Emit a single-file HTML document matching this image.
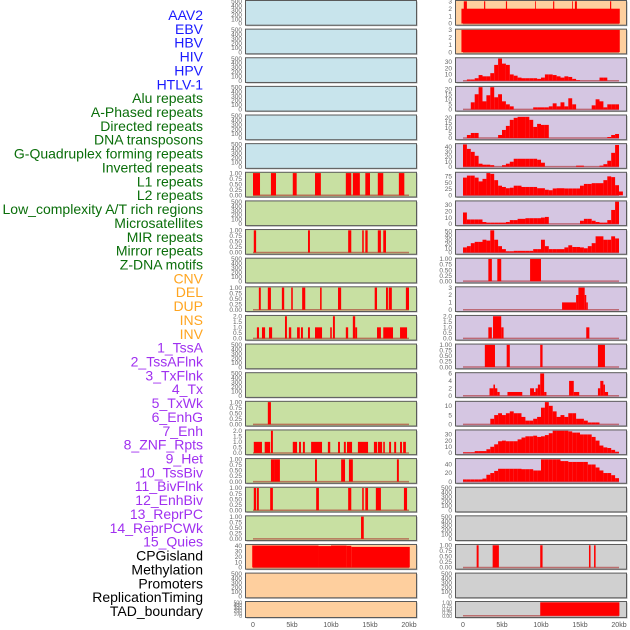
<!DOCTYPE html>
<html><head><meta charset="utf-8">
<style>
html,body{margin:0;padding:0;background:#fff;width:630px;height:630px;overflow:hidden}
svg{display:block;font-family:"Liberation Sans",sans-serif}
</style></head>
<body>
<svg id="chart" width="630" height="630" viewBox="0 0 630 630"></svg>
<script>
// ---------- labels ----------
const labelNames = ["AAV2","EBV","HBV","HIV","HPV","HTLV-1","Alu repeats","A-Phased repeats","Directed repeats","DNA transposons","G-Quadruplex forming repeats","Inverted repeats","L1 repeats","L2 repeats","Low_complexity A/T rich regions","Microsatellites","MIR repeats","Mirror repeats","Z-DNA motifs","CNV","DEL","DUP","INS","INV","1_TssA","2_TssAFlnk","3_TxFlnk","4_Tx","5_TxWk","6_EnhG","7_Enh","8_ZNF_Rpts","9_Het","10_TssBiv","11_BivFlnk","12_EnhBiv","13_ReprPC","14_ReprPCWk","15_Quies","CPGisland","Methylation","Promoters","ReplicationTiming","TAD_boundary"];
const labelGroups = [6,13,5,15,5];
const groupColors = ["#1a1aff","#0a6e0a","#ffa520","#a030f0","#000000"];

// ---------- axis ticks ----------
const xTickValues = [0,5,10,15,20];
const xTickLabels = ["0","5kb","10kb","15kb","20kb"];
const ticksEmpty = ["0","100","200","300","400","500"];
const ticksUnit = ["0.00","0.25","0.50","0.75","1.00"];
const ticksTwo = ["0.0","0.5","1.0","1.5","2.0"];
const ticksThree = ["0","1","2","3"];
const ticks30 = ["0","10","20","30"];
const ticks20 = ["0","5","10","15","20"];
const ticks40 = ["0","10","20","30","40"];
const ticks75 = ["0","25","50","75"];
const ticks50 = ["0","10","20","30","40","50"];
const ticks6 = ["0","2","4","6"];
const ticks10 = ["0","5","10"];
const ticks40b = ["0","20","40"];

// ---------- left column data (intervals: [startKb, endKb, value]) ----------
const leftL1 = [[0,0.9,1],[2.3,2.95,1],[5.1,5.6,1],[7.95,8.7,1],[11.9,12.6,1],[12.8,13.7,1],[14.4,15,1],[16,16.7,1],[18.7,19.4,1]];
const leftMIR = [[0.1,0.4,1],[7.05,7.3,1],[12.2,12.6,1],[14,14.2,1],[14.4,14.7,1],[16,16.4,1],[16.7,17.05,1]];
const leftZDNA = [[0.75,1.0,1],[1.9,2.3,1],[3.7,4.0,1],[4.9,5.1,1],[6.3,6.7,1],[8.6,8.8,1],[10.9,11.3,1],[15.6,15.9,1],[17.05,17.3,1],[17.4,17.8,1],[19.6,20,1]];
const leftDEL = [[0.5,0.77,1],[1.15,1.55,1],[2.05,2.45,1],[4.1,4.35,2],[4.6,4.9,1],[5.65,6.0,1],[6.15,6.4,1],[7.05,7.3,1],[7.95,8.85,1],[9.9,10.1,1],[10.25,10.5,2],[11.9,12.2,1],[12.8,13.1,2],[13.1,13.35,1],[15.9,16.4,1],[16.7,17.95,1],[18.85,19.75,1]];
const leftTxWk = [[1.9,2.3,1]];
const leftEnh = [[0.1,1.15,1],[1.5,2.2,1],[2.3,2.55,2],[5.1,5.65,1],[5.9,6.15,1],[6.4,6.65,1],[7.45,8.85,1],[9.6,9.9,1],[10.9,11.15,1],[11.65,11.9,1],[12.05,12.7,1],[13.45,14.75,1],[15.5,15.9,1],[16,16.55,1],[16.7,16.9,1],[17.45,17.7,1],[18.1,18.35,1],[18.85,19.1,1],[19.25,19.6,1]];
const leftHet = [[2.3,2.7,1],[2.7,3.45,1],[7.95,8.2,1],[11.3,11.8,1],[12.3,12.8,1],[18.45,18.7,1]];
const leftBivFlnk = [[0.1,0.4,1],[0.5,0.75,1],[2.2,2.55,1],[8.1,8.45,1],[12.2,12.6,1],[14,14.2,1],[14.4,14.75,1],[15.75,16.4,1],[19.35,19.75,1]];
const leftReprPC = [[13.85,14.2,1]];
const leftCPG = [[-0.1,8.4,40.5],[8.4,10,39.5],[10,12,40.5],[12,12.6,40],[12.6,20.1,38]];

// ---------- right column data ----------
const rightAAV2 = [[-0.2,20.1,2],[0.1,0.5,3],[2.7,2.85,3],[5.5,5.65,3],[9.25,9.35,3],[11.55,11.7,3],[14,14.1,3],[14.35,14.6,3],[18.85,19,3]];
const rightEBV = [[-0.2,20.1,3]];
// binned series, 0.5kb bins from 0kb
const binHIV = [0,2,2,4,9,7,7,12,25,35,27,25,10,8,5,4,4,4,4,3,5,10,10,9,7,5,7,6,3,1,0,0,0,0,0,5,5,0,0,0,0];
const binHPV = [0,0,7,15,22,8,14,22,12,15,8,5,3,0,0,0,0,0,2,2,2,2,3,6,3,7,3,11,5,0,0,0,0,4,10,8,2,5,5,5,0];
const binHTLV = [0,3,5,5,0,0,0,0,0,3,8,12,18,20,21,21,21,18,11,14,13,13,0,0,0,0,0,0,0,0,0,0,0,0,0,0,0,1,3,4,0];
const binAlu = [45,36,30,22,6,4,4,3,0,0,3,6,10,16,16,16,16,16,16,14,8,0,0,0,0,0,0,0,0,2,2,0,0,0,0,2,5,12,28,44,0];
const binAPhased = [70,78,78,70,55,65,88,85,60,38,33,28,30,38,38,33,33,33,33,28,28,22,20,27,28,28,27,27,27,27,38,45,45,48,48,48,60,75,72,40,15];
const binDirected = [18,7,7,7,7,3,2,2,2,2,2,3,6,6,8,8,9,9,9,9,10,11,0,0,0,0,0,0,0,0,5,8,8,5,3,2,2,6,22,35,0];
const binDNAtrans = [12,15,22,25,25,30,28,52,30,15,8,3,3,4,4,4,4,4,8,8,30,15,8,8,8,8,12,17,13,13,12,10,15,22,38,38,30,30,38,33,0];
const rightGQuad = [[3.25,3.7,1],[4.4,4.9,1],[8.6,10.0,1]];
const rightInverted = [[12.7,14.5,1],[14.5,14.8,2],[14.8,15.6,3],[15.6,15.8,2],[15.8,16.0,1]];
const rightL1 = [[3.25,3.7,1],[3.85,4.9,2],[4.9,5.2,1],[15.8,16.2,1]];
const rightL2 = [[2.8,4.1,1],[5.6,6.0,1],[9.9,10.2,1],[17.3,18.2,1]];
const rightLowComplex = [[3.4,3.9,2],[3.9,4.1,3],[4.1,4.4,2],[4.4,4.7,1],[5.7,7.6,1],[8.6,9.1,2],[9.1,9.3,1],[9.3,9.6,2],[9.6,9.9,3],[9.9,10.4,6],[10.4,10.7,1],[13.6,14.2,4],[14.2,14.9,1],[17.3,17.6,2],[17.6,18.0,4],[18.0,18.2,3],[18.2,18.6,1]];
const binMicro = [0,0,0,0,0,0,0,3,5,6,5,6,7,6,6,4,2,2,3,4,9,12,10,7,4,5,4,6,6,3,3,2,1,1,1,0,0,0,0,0,0];
const binMIR = [1,1,1,3,3,3,6,10,14,19,20,19,19,19,22,25,27,27,28,26,27,29,32,36,36,36,36,35,33,33,30,30,30,26,20,12,9,8,5,2,0];
const binMirror = [5,5,5,5,5,7,16,20,25,30,30,30,30,30,30,29,29,29,26,26,52,52,52,52,52,48,48,46,46,46,46,46,40,40,33,26,20,20,15,8,0];
const rightPromoters = [[1.75,2.0,1],[3.8,4.6,1],[9.9,10.2,1],[16.15,16.35,1],[16.8,17.0,1]];
const rightTAD = [[9.9,20.05,1]];

// ---------- panel configs ----------
const BLUE="#c8e4ec", GREEN="#c8e0a2", PEACH="#fecf9e", PURPLE="#d5c6e2", GRAY="#d0d0d0";
const leftPanels = [
 {bg:BLUE,ticks:ticksEmpty,max:500},{bg:BLUE,ticks:ticksEmpty,max:500},{bg:BLUE,ticks:ticksEmpty,max:500},
 {bg:BLUE,ticks:ticksEmpty,max:500},{bg:BLUE,ticks:ticksEmpty,max:500},{bg:BLUE,ticks:ticksEmpty,max:500},
 {bg:GREEN,ticks:ticksUnit,max:1,iv:leftL1},{bg:GREEN,ticks:ticksEmpty,max:500},
 {bg:GREEN,ticks:ticksUnit,max:1,iv:leftMIR},{bg:GREEN,ticks:ticksEmpty,max:500},
 {bg:GREEN,ticks:ticksUnit,max:1,iv:leftZDNA},{bg:GREEN,ticks:ticksTwo,max:2,iv:leftDEL},
 {bg:GREEN,ticks:ticksEmpty,max:500},{bg:GREEN,ticks:ticksEmpty,max:500},
 {bg:GREEN,ticks:ticksUnit,max:1,iv:leftTxWk},{bg:GREEN,ticks:ticksTwo,max:2,iv:leftEnh},
 {bg:GREEN,ticks:ticksUnit,max:1,iv:leftHet},{bg:GREEN,ticks:ticksUnit,max:1,iv:leftBivFlnk},
 {bg:GREEN,ticks:ticksUnit,max:1,iv:leftReprPC},{bg:PEACH,ticks:ticks40,max:41,iv:leftCPG},
 {bg:PEACH,ticks:ticksEmpty,max:500},{bg:PEACH,ticks:ticksEmpty,max:500}
];
const rightPanels = [
 {bg:PEACH,ticks:ticksThree,max:3,iv:rightAAV2},{bg:PEACH,ticks:ticksThree,max:3,iv:rightEBV},
 {bg:PURPLE,ticks:ticks30,max:35,bins:binHIV},{bg:PURPLE,ticks:ticks20,max:22,bins:binHPV},
 {bg:PURPLE,ticks:ticks20,max:22,bins:binHTLV},{bg:PURPLE,ticks:ticks40,max:45,bins:binAlu},
 {bg:PURPLE,ticks:ticks75,max:88,bins:binAPhased},{bg:PURPLE,ticks:ticks30,max:35,bins:binDirected},
 {bg:PURPLE,ticks:ticks50,max:52,bins:binDNAtrans},{bg:PURPLE,ticks:ticksUnit,max:1,iv:rightGQuad},
 {bg:PURPLE,ticks:ticksThree,max:3,iv:rightInverted},{bg:PURPLE,ticks:ticksTwo,max:2,iv:rightL1},
 {bg:PURPLE,ticks:ticksUnit,max:1,iv:rightL2},{bg:PURPLE,ticks:ticks6,max:6,iv:rightLowComplex},
 {bg:PURPLE,ticks:ticks10,max:12,bins:binMicro},{bg:PURPLE,ticks:ticks30,max:36,bins:binMIR},
 {bg:PURPLE,ticks:ticks40b,max:52,bins:binMirror},{bg:GRAY,ticks:ticksEmpty,max:500},
 {bg:GRAY,ticks:ticksEmpty,max:500},{bg:GRAY,ticks:ticksUnit,max:1,iv:rightPromoters},
 {bg:GRAY,ticks:ticksEmpty,max:500},{bg:GRAY,ticks:ticksUnit,max:1,iv:rightTAD}
];

const svg = document.getElementById('chart');
const NS = "http://www.w3.org/2000/svg";
function mk(tag, attrs, parent){const e=document.createElementNS(NS,tag);for(const k in attrs)e.setAttribute(k,attrs[k]);(parent||svg).appendChild(e);return e;}

// labels
let li=0;
labelGroups.forEach((n,g)=>{for(let k=0;k<n;k++){const t=mk('text',{x:203,y:(15+li*13.86+5).toFixed(1),'text-anchor':'end','font-size':14,fill:groupColors[g]});


t.textContent=labelNames[li];li++;}});

function rowTop(i){return i<21? i*28.63 : 601;}
function rowH(i){return i<21? 24.7 : 16;}

function drawPanel(p, i, x0, side){
  const top=rowTop(i), h=rowH(i), w=171;
  const g=mk('g',{});
  
  
  mk('rect',{x:x0+1.5,y:top+1.5,width:w,height:h,fill:'#b0b0b0'},g);
  mk('rect',{x:x0+0.5,y:top+0.5,width:w,height:h,fill:p.bg,stroke:'#5a5a5a','stroke-width':1},g);
  const xs=v=>x0+8+v/20*156;
  const ys=v=>top+h-1.2-v/p.max*(h-2.5);
  // ticks
  p.ticks.forEach(t=>{const tx=mk('text',{x:x0-3,y:(ys(parseFloat(t))+2.2).toFixed(1),'text-anchor':'end','font-size':h<20?5:6.5,fill:'#666'},g);
    
    
    tx.textContent=t;});
  const bars=[];
  if(p.iv) p.iv.forEach(d=>bars.push(d));
  if(p.bins) p.bins.forEach((v,k)=>bars.push([k*0.5,(k+1)*0.5,v]));
  if(bars.length){
    const bl=mk('line',{x1:xs(0),x2:xs(20),y1:ys(0),y2:ys(0),stroke:'rgba(170,30,30,0.55)','stroke-width':1.5},g);
    
    
  }
  bars.forEach(d=>{if(d[2]<=0)return;
    const r=mk('rect',{x:xs(d[0]).toFixed(2),y:ys(d[2]).toFixed(2),width:Math.max(0.8,xs(d[1])-xs(d[0])).toFixed(2),height:(ys(0)-ys(d[2])).toFixed(2),fill:'#ff0000'},g);
    
    });
}
leftPanels.forEach((p,i)=>drawPanel(p,i,245,'left'));
rightPanels.forEach((p,i)=>drawPanel(p,i,455,'right'));

// x axes
[245,455].forEach((x0,c)=>{xTickValues.forEach((v,k)=>{const t=mk('text',{x:x0+8+v/20*156,y:627,'text-anchor':'middle','font-size':7,fill:'#555'});
  
  
  t.textContent=xTickLabels[k];});});
</script>
</body></html>
